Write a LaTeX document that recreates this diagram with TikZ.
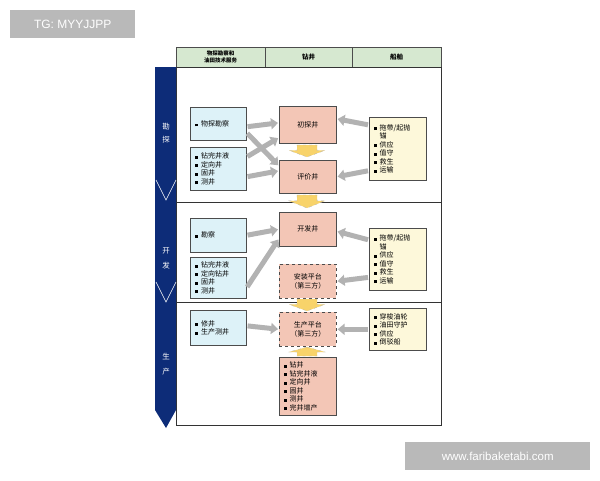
\documentclass[tikz,border=0pt]{standalone}
\usepackage{fontspec}
\setmainfont{Liberation Sans}
\newfontfamily\cjk{Noto Sans CJK SC}
\usetikzlibrary{arrows.meta}
\definecolor{hdr}{HTML}{D6E8D0}
\definecolor{lb}{HTML}{DDF2F8}
\definecolor{pk}{HTML}{F3C6B6}
\definecolor{cr}{HTML}{FDF8DA}
\definecolor{nv}{HTML}{0D2C78}
\definecolor{yl}{HTML}{F8D36A}
\newcommand{\bu}{\hspace*{3pt}\rule{2.8pt}{2.8pt}\hspace{3pt}}
\begin{document}
\begin{tikzpicture}[x=1pt,y=-1pt,
 box/.style={draw=black!70,line width=0.6pt,anchor=north west,inner sep=0pt,font=\cjk\fontsize{7}{8.5}\selectfont},
 gar/.style={draw=gray!60,line width=5pt,-{Triangle[length=7pt,width=11pt]},shorten >=1pt,shorten <=1pt},
 yar/.style={fill=yl,draw=gray!60,dashed,line width=0.3pt}]
\useasboundingbox (0,0) rectangle (600,480);
\node[fill=gray!55,minimum width=125pt,minimum height=28pt,anchor=north west,text=white,font=\fontsize{12}{14}\selectfont] (wm1) at (10,10) {TG: MYYJJPP};
\node[fill=gray!55,minimum width=185pt,minimum height=28pt,anchor=north west,text=white,font=\fontsize{11.5}{14}\selectfont] (wm2) at (405,442) {www.faribaketabi.com};
% header
\draw[fill=hdr,draw=black!70] (176,47) rectangle (441,67);
\draw[black!70] (265,47)--(265,67) (352,47)--(352,67);
\node[font=\cjk\bfseries\fontsize{5.5}{6.5}\selectfont,align=center] (h1) at (220.5,57) {物探勘察和\\油田技术服务};
\node[font=\cjk\bfseries\fontsize{6.5}{7}\selectfont] (h2) at (308.5,57) {钻井};
\node[font=\cjk\bfseries\fontsize{6.5}{7}\selectfont] (h3) at (396.5,57) {船舶};
% frame
\draw[black!80,line width=0.8pt] (176,67) rectangle (441,425);
\draw[black!80,line width=0.8pt] (176,202)--(441,202) (176,302)--(441,302);
% left arrow
\fill[nv] (155,67)--(176,67)--(176,410)--(166,428)--(155,410)--cycle;
\draw[white,line width=0.6pt] (156,180)--(166,200)--(176,180) (156,282)--(166,302)--(176,282);
\node[text=white,font=\cjk\fontsize{7.5}{13}\selectfont,align=center] (s1) at (166,133) {勘\\探};
\node[text=white,font=\cjk\fontsize{7.5}{15}\selectfont,align=center] (s2) at (166,258) {开\\发};
\node[text=white,font=\cjk\fontsize{7.5}{15}\selectfont,align=center] (s3) at (166,364) {生\\产};
% boxes
\node[box,fill=lb,minimum width=56pt,minimum height=33pt,text width=52pt,align=left] (a1) at (190,107) {\bu 物探勘察};
\node[box,fill=lb,minimum width=56pt,minimum height=43pt,text width=52pt,align=left] (a2) at (190,147) {\bu 钻完井液\\\bu 定向井\\\bu 固井\\\bu 测井};
\node[box,fill=pk,minimum width=57pt,minimum height=37pt] (b1) at (279,106) {初探井};
\node[box,fill=pk,minimum width=57pt,minimum height=33pt] (b2) at (279,160) {评价井};
\node[box,fill=cr,minimum width=57pt,minimum height=63pt,text width=54pt,align=left] (c1) at (369,117) {\bu 拖带/起抛\\\hspace*{8.8pt}锚\\\bu 供应\\\bu 值守\\\bu 救生\\\bu 运输};
\node[box,fill=lb,minimum width=56pt,minimum height=34pt,text width=52pt,align=left] (a3) at (190,218) {\bu 勘察};
\node[box,fill=lb,minimum width=56pt,minimum height=41pt,text width=52pt,align=left] (a4) at (190,257) {\bu 钻完井液\\\bu 定向钻井\\\bu 固井\\\bu 测井};
\node[box,fill=pk,minimum width=57pt,minimum height=34pt] (b3) at (279,212) {开发井};
\node[box,fill=pk,dashed,minimum width=57pt,minimum height=34pt,align=center] (b4) at (279,264) {安装平台\\（第三方）};
\node[box,fill=cr,minimum width=57pt,minimum height=62pt,text width=54pt,align=left] (c2) at (369,228) {\bu 拖带/起抛\\\hspace*{8.8pt}锚\\\bu 供应\\\bu 值守\\\bu 救生\\\bu 运输};
\node[box,fill=lb,minimum width=56pt,minimum height=35pt,text width=52pt,align=left] (a5) at (190,310) {\bu 修井\\\bu 生产测井\\[8pt]};
\node[box,fill=pk,dashed,minimum width=57pt,minimum height=34pt,align=center] (b5) at (279,312) {生产平台\\（第三方）};
\node[box,fill=cr,minimum width=57pt,minimum height=42pt,text width=54pt,align=left] (c3) at (369,308) {\bu 穿梭油轮\\\bu 油田守护\\\bu 供应\\\bu 倒驳船};
\node[box,fill=pk,minimum width=57pt,minimum height=58pt,text width=54pt,align=left] (b6) at (279,357) {\bu 钻井\\\bu 钻完井液\\\bu 定向井\\\bu 固井\\\bu 测井\\\bu 完井增产};
% yellow arrows
\foreach \y/\h in {145/12,195/13,299/12}
  \draw[yar] (297,\y)--(317,\y)--(317,\y+\h*0.45)--(325,\y+\h*0.45)--(307,\y+\h)--(289,\y+\h*0.45)--(297,\y+\h*0.45)--cycle;
\draw[yar] (307,347)--(325,352)--(317,352)--(317,356)--(297,356)--(297,352)--(289,352)--cycle;
% gray arrows
\draw[gar] (a1.east|-b1.west)++(0,2) -- ([yshift=2pt]b1.west);
\draw[gar] (a1.south east)++(0,-8) -- ([yshift=-6pt]b2.north west);
\draw[gar] (a2.north east)++(0,10) -- ([yshift=6pt]b1.south west);
\draw[gar] (a2.east)++(0,8) -- ([yshift=6pt]b2.west);
\draw[gar] ([yshift=-8pt]c1.north west) -- ([yshift=6pt]b1.east);
\draw[gar] ([yshift=10pt]c1.south west) -- (b2.east);
\draw[gar] (a3.east) -- (b3.west);
\draw[gar] ([yshift=-10pt]a4.east) -- ([yshift=8pt]b3.south west);
\draw[gar] ([yshift=-12pt]c2.north west) -- ([yshift=-2pt]b3.east);
\draw[gar] ([yshift=-18pt]c2.west) -- (b4.east);
\draw[gar] ([yshift=2pt]a5.east) -- (b5.west);
\draw[gar] (c3.west) -- (b5.east);
\end{tikzpicture}
\end{document}
